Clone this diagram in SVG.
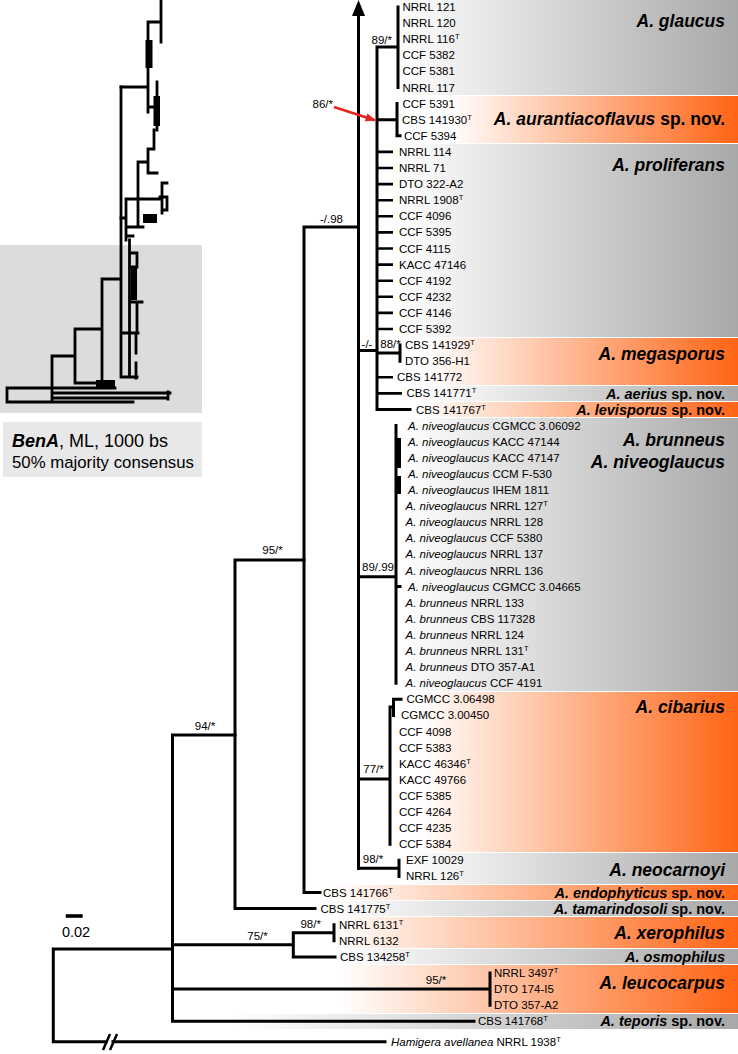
<svg xmlns="http://www.w3.org/2000/svg" width="738" height="1054" viewBox="0 0 738 1054">
<style>
.t{font-family:"Liberation Sans",Arial,sans-serif;font-size:11.5px;fill:#000}
.i{font-style:italic}
.s{font-size:7.5px}
.sp{font-family:"Liberation Sans",Arial,sans-serif;font-size:11.5px;fill:#000;text-anchor:middle}
.cl{font-family:"Liberation Sans",Arial,sans-serif;font-weight:bold;font-size:17.5px;text-anchor:end;fill:#000}
.cs{font-family:"Liberation Sans",Arial,sans-serif;font-weight:bold;font-size:14.5px;text-anchor:end;fill:#000}
.ln{fill:none;stroke:#000;stroke-width:3;stroke-linecap:square;stroke-linejoin:miter}
.st{fill:none;stroke:#000;stroke-width:2.6;stroke-linecap:butt}
.in{fill:none;stroke:#000;stroke-width:2.8;stroke-linecap:square;stroke-linejoin:miter}
.gb{fill:url(#gG)}
.ob{fill:url(#gO)}
</style>
<defs>
<linearGradient id="gG" x1="0" y1="0" x2="1" y2="0"><stop offset="0" stop-color="#ffffff"/><stop offset="1" stop-color="#a8a8a8"/></linearGradient>
<linearGradient id="gO" x1="0" y1="0" x2="1" y2="0"><stop offset="0" stop-color="#ffffff"/><stop offset="1" stop-color="#ff6414"/></linearGradient>
<marker id="ah" viewBox="0 0 10 8" refX="9" refY="4" markerWidth="4" markerHeight="3.2" orient="auto" markerUnits="strokeWidth"><path d="M0,0 L10,4 L0,8 z" fill="#e8231e"/></marker>
</defs>
<rect width="738" height="1054" fill="#fff"/>

<!-- clade bands -->
<g id="clade-glaucus"><rect class="gb" x="395" y="0" width="343" height="95"/><text class="cl" x="725" y="26.5"><tspan class="i">A. glaucus</tspan></text></g>
<g id="clade-aurantiacoflavus"><rect class="ob" x="450" y="96" width="288" height="47"/><text class="cl" x="725" y="125"><tspan class="i">A. aurantiacoflavus</tspan> sp. nov.</text></g>
<g id="clade-proliferans"><rect class="gb" x="395" y="144" width="343" height="193"/><text class="cl" x="725" y="170.5"><tspan class="i">A. proliferans</tspan></text></g>
<g id="clade-megasporus"><rect class="ob" x="430" y="338" width="308" height="47"/><text class="cl" x="725" y="360"><tspan class="i">A. megasporus</tspan></text></g>
<g id="clade-aerius"><rect class="gb" x="420" y="386" width="318" height="15"/><text class="cs" x="725" y="398.7"><tspan class="i">A. aerius</tspan> sp. nov.</text></g>
<g id="clade-levisporus"><rect class="ob" x="420" y="402" width="318" height="15"/><text class="cs" x="725" y="414.6"><tspan class="i">A. levisporus</tspan> sp. nov.</text></g>
<g id="clade-niveoglaucus"><rect class="gb" x="400" y="418" width="338" height="273"/><text class="cl" x="725" y="445.5"><tspan class="i">A. brunneus</tspan></text><text class="cl" x="725" y="467.5"><tspan class="i">A. niveoglaucus</tspan></text></g>
<g id="clade-cibarius"><rect class="ob" x="420" y="692" width="318" height="160"/><text class="cl" x="725" y="712.5"><tspan class="i">A. cibarius</tspan></text></g>
<g id="clade-neocarnoyi"><rect class="gb" x="400" y="853" width="338" height="31"/><text class="cl" x="725" y="876"><tspan class="i">A. neocarnoyi</tspan></text></g>
<g id="clade-endophyticus"><rect class="ob" x="330" y="885" width="408" height="15"/><text class="cs" x="725" y="897.5"><tspan class="i">A. endophyticus</tspan> sp. nov.</text></g>
<g id="clade-tamarindosoli"><rect class="gb" x="320" y="901" width="418" height="15"/><text class="cs" x="725" y="913.5"><tspan class="i">A. tamarindosoli</tspan> sp. nov.</text></g>
<g id="clade-xerophilus"><rect class="ob" x="335" y="917" width="403" height="31"/><text class="cl" x="725" y="938.5"><tspan class="i">A. xerophilus</tspan></text></g>
<g id="clade-osmophilus"><rect class="gb" x="335" y="949" width="403" height="15"/><text class="cs" x="725" y="962"><tspan class="i">A. osmophilus</tspan></text></g>
<g id="clade-leucocarpus"><rect class="ob" x="340" y="965" width="398" height="48"/><text class="cl" x="725" y="989"><tspan class="i">A. leucocarpus</tspan></text></g>
<g id="clade-teporis"><rect class="gb" x="230" y="1014" width="508" height="15"/><text class="cs" x="725" y="1026"><tspan class="i">A. teporis</tspan> sp. nov.</text></g>

<!-- inset -->
<g id="inset">
<rect x="0" y="245" width="202" height="168" fill="#dcdcdc"/>
<path class="in" d="M161,0 V42 M148,22 H161 M148,22 V112 M121,87 H148 M148,107 H157 M157,82 V130 M154,130 V149 H148 V173 H157 M138,162 H148 M138,162 V227 M126,199 H160 M162,183 V213 M162,183 H167 M160,197 H167 V210 H162 M126,199 V240 M126,227 H143 M121,218 H126 M126,236 H133"/>
<rect x="145.5" y="40" width="7" height="28"/>
<rect x="153.5" y="96" width="6.5" height="30"/>
<rect x="143" y="214" width="14" height="9"/>
<path class="in" d="M121,87 V377 H137 M129.5,240 V375 M130,253 H137 V267 H130 M129.5,302 H142 M137,302 V333 M121,333 H138 M136,333 V353 M136,363 V378 M102,279 H121 M102,279 V383 M75,329 H102 M75,329 V383 H112 M52,356 H75 M52,356 V402 M52,388 H115 M52,393 H170 M52,398 H168 M168,392 V399 M7,402 H133 M7,388 V402 M7,388 H52"/>
<rect x="131" y="267" width="6" height="33"/>
<rect x="96" y="380" width="19" height="9"/>
<rect x="3" y="422" width="199" height="55" fill="#e8e8e8"/>
<text class="t" x="12" y="447" style="font-size:18px"><tspan font-weight="bold" font-style="italic">BenA</tspan>, ML, 1000 bs</text>
<text class="t" x="12" y="468" style="font-size:16.8px">50% majority consensus</text>
</g>

<!-- connectors -->
<g id="connectors">
<polygon points="358.5,0 352,16 365,16" fill="#000"/>
<path class="ln" d="M358.5,14 V868.3"/>
<path class="ln" d="M320,892.5 H304 V227 H358.5"/>
<path class="ln" d="M315,908.6 H235 V560 H304"/>
<path class="ln" d="M235,735 H172.5 V1021.3 H474"/>
<path class="ln" d="M172.5,949 H53.3 V1041.7 H106 M113,1041.7 H385"/>
<path class="ln" d="M172.5,944.8 H293.3 M335,956.9 H293.3 V932.7 H334 M334,924.7 V940.8"/>
<path class="ln" d="M172.5,989.1 H490 M490,973 V1005.2"/>
<path class="ln" d="M358.5,350.5 H377 M377,47 V409.5 H410 M377,47 H398 M398,7 V87.5 M377,119.7 H397 M397,103.6 V135.8 H400 M377,353 H400 M400,345.1 V361.2"/>
<path class="st" d="M377,151.9 H393 M377,168 H393 M377,184.1 H393 M377,200.2 H393 M377,216.3 H393 M377,232.4 H393 M377,248.5 H393 M377,264.6 H393 M377,280.7 H393 M377,296.8 H393 M377,312.9 H393 M377,329 H393 M377,377.3 H393 M377,393.4 H402"/>
<path class="ln" d="M358.5,576.7 H396 M396,425.6 V683.2 M396,586.6 H400"/>
<rect x="396" y="438" width="5" height="30"/>
<rect x="396" y="476" width="5" height="18"/>
<path class="ln" d="M358.5,779 H390 M390,707 V844.2 M390,707 H393.5 M401,699.3 H393.5 V715.4"/>
<path class="ln" d="M358.5,868.3 H399 M399,860.3 V876.4"/>
<path d="M334,107 L375,120.3" stroke="#e8231e" stroke-width="2.6" fill="none" marker-end="url(#ah)"/>
<path d="M103,1050 L110,1034 M110,1050 L117,1034" stroke="#000" stroke-width="2.5" fill="none"/>
<path d="M65.7,916 H82.7" stroke="#000" stroke-width="3.6"/>
<text class="t" x="76" y="937" text-anchor="middle" style="font-size:14.5px">0.02</text>
</g>

<!-- support values -->
<g id="supports">
<text class="t" x="392" y="43.5" text-anchor="end">89/*</text>
<text class="t" x="333" y="108" text-anchor="end">86/*</text>
<text class="sp" x="331.5" y="222.5">-/.98</text>
<text class="sp" x="367" y="347.5">-/-</text>
<text class="sp" x="390.5" y="347.5">88/*</text>
<text class="t" x="394" y="571" text-anchor="end">89/.99</text>
<text class="sp" x="272.5" y="554">95/*</text>
<text class="sp" x="205" y="730">94/*</text>
<text class="sp" x="373.5" y="773">77/*</text>
<text class="sp" x="373" y="863">98/*</text>
<text class="sp" x="310.7" y="928">98/*</text>
<text class="sp" x="257.5" y="940">75/*</text>
<text class="sp" x="436" y="984">95/*</text>
</g>

<!-- tips -->
<g id="tip-NRRL121"><text class="t" x="402.5" y="11">NRRL 121</text></g>
<g id="tip-NRRL120"><text class="t" x="402.5" y="27.1">NRRL 120</text></g>
<g id="tip-NRRL116"><text class="t" x="402.5" y="43.2">NRRL 116<tspan class="s" dy="-4">T</tspan></text></g>
<g id="tip-CCF5382"><text class="t" x="402.5" y="59.3">CCF 5382</text></g>
<g id="tip-CCF5381"><text class="t" x="402.5" y="75.4">CCF 5381</text></g>
<g id="tip-NRRL117"><text class="t" x="402.5" y="91.5">NRRL 117</text></g>
<g id="tip-CCF5391"><text class="t" x="402.5" y="107.6">CCF 5391</text></g>
<g id="tip-CBS141930"><text class="t" x="402" y="123.7">CBS 141930<tspan class="s" dy="-4">T</tspan></text></g>
<g id="tip-CCF5394"><text class="t" x="404" y="139.8">CCF 5394</text></g>
<g id="tip-NRRL114"><text class="t" x="399" y="155.9">NRRL 114</text></g>
<g id="tip-NRRL71"><text class="t" x="399" y="172">NRRL 71</text></g>
<g id="tip-DTO322A2"><text class="t" x="399" y="188.1">DTO 322-A2</text></g>
<g id="tip-NRRL1908"><text class="t" x="399" y="204.2">NRRL 1908<tspan class="s" dy="-4">T</tspan></text></g>
<g id="tip-CCF4096"><text class="t" x="399" y="220.3">CCF 4096</text></g>
<g id="tip-CCF5395"><text class="t" x="399" y="236.4">CCF 5395</text></g>
<g id="tip-CCF4115"><text class="t" x="399" y="252.5">CCF 4115</text></g>
<g id="tip-KACC47146"><text class="t" x="399" y="268.6">KACC 47146</text></g>
<g id="tip-CCF4192"><text class="t" x="399" y="284.7">CCF 4192</text></g>
<g id="tip-CCF4232"><text class="t" x="399" y="300.8">CCF 4232</text></g>
<g id="tip-CCF4146"><text class="t" x="399" y="316.9">CCF 4146</text></g>
<g id="tip-CCF5392"><text class="t" x="399" y="333">CCF 5392</text></g>
<g id="tip-CBS141929"><text class="t" x="405" y="349.1">CBS 141929<tspan class="s" dy="-4">T</tspan></text></g>
<g id="tip-DTO356H1"><text class="t" x="405" y="365.2">DTO 356-H1</text></g>
<g id="tip-CBS141772"><text class="t" x="397" y="381.3">CBS 141772</text></g>
<g id="tip-CBS141771"><text class="t" x="406.5" y="397.4">CBS 141771<tspan class="s" dy="-4">T</tspan></text></g>
<g id="tip-CBS141767"><text class="t" x="416" y="413.5">CBS 141767<tspan class="s" dy="-4">T</tspan></text></g>
<g id="tip-CGMCC306092"><text class="t" x="408" y="429.6"><tspan class="i">A. niveoglaucus</tspan> CGMCC 3.06092</text></g>
<g id="tip-KACC47144"><text class="t" x="408" y="445.7"><tspan class="i">A. niveoglaucus</tspan> KACC 47144</text></g>
<g id="tip-KACC47147"><text class="t" x="408" y="461.8"><tspan class="i">A. niveoglaucus</tspan> KACC 47147</text></g>
<g id="tip-CCMF530"><text class="t" x="408" y="477.9"><tspan class="i">A. niveoglaucus</tspan> CCM F-530</text></g>
<g id="tip-IHEM1811"><text class="t" x="408" y="494"><tspan class="i">A. niveoglaucus</tspan> IHEM 1811</text></g>
<g id="tip-NRRL127"><text class="t" x="405.5" y="510.1"><tspan class="i">A. niveoglaucus</tspan> NRRL 127<tspan class="s" dy="-4">T</tspan></text></g>
<g id="tip-NRRL128"><text class="t" x="405.5" y="526.2"><tspan class="i">A. niveoglaucus</tspan> NRRL 128</text></g>
<g id="tip-CCF5380"><text class="t" x="405.5" y="542.3"><tspan class="i">A. niveoglaucus</tspan> CCF 5380</text></g>
<g id="tip-NRRL137"><text class="t" x="405.5" y="558.4"><tspan class="i">A. niveoglaucus</tspan> NRRL 137</text></g>
<g id="tip-NRRL136"><text class="t" x="405.5" y="574.5"><tspan class="i">A. niveoglaucus</tspan> NRRL 136</text></g>
<g id="tip-CGMCC304665"><text class="t" x="408" y="590.6"><tspan class="i">A. niveoglaucus</tspan> CGMCC 3.04665</text></g>
<g id="tip-NRRL133"><text class="t" x="405.5" y="606.7"><tspan class="i">A. brunneus</tspan> NRRL 133</text></g>
<g id="tip-CBS117328"><text class="t" x="405.5" y="622.8"><tspan class="i">A. brunneus</tspan> CBS 117328</text></g>
<g id="tip-NRRL124"><text class="t" x="405.5" y="638.9"><tspan class="i">A. brunneus</tspan> NRRL 124</text></g>
<g id="tip-NRRL131"><text class="t" x="405.5" y="655"><tspan class="i">A. brunneus</tspan> NRRL 131<tspan class="s" dy="-4">T</tspan></text></g>
<g id="tip-DTO357A1"><text class="t" x="405.5" y="671.1"><tspan class="i">A. brunneus</tspan> DTO 357-A1</text></g>
<g id="tip-CCF4191"><text class="t" x="405.5" y="687.2"><tspan class="i">A. niveoglaucus</tspan> CCF 4191</text></g>
<g id="tip-CGMCC306498"><text class="t" x="406.5" y="703.3">CGMCC 3.06498</text></g>
<g id="tip-CGMCC300450"><text class="t" x="401" y="719.4">CGMCC 3.00450</text></g>
<g id="tip-CCF4098"><text class="t" x="399" y="735.5">CCF 4098</text></g>
<g id="tip-CCF5383"><text class="t" x="399" y="751.6">CCF 5383</text></g>
<g id="tip-KACC46346"><text class="t" x="399" y="767.7">KACC 46346<tspan class="s" dy="-4">T</tspan></text></g>
<g id="tip-KACC49766"><text class="t" x="399" y="783.8">KACC 49766</text></g>
<g id="tip-CCF5385"><text class="t" x="399" y="799.9">CCF 5385</text></g>
<g id="tip-CCF4264"><text class="t" x="399" y="816">CCF 4264</text></g>
<g id="tip-CCF4235"><text class="t" x="399" y="832.1">CCF 4235</text></g>
<g id="tip-CCF5384"><text class="t" x="399" y="848.2">CCF 5384</text></g>
<g id="tip-EXF10029"><text class="t" x="406" y="864.3">EXF 10029</text></g>
<g id="tip-NRRL126"><text class="t" x="406" y="880.4">NRRL 126<tspan class="s" dy="-4">T</tspan></text></g>
<g id="tip-CBS141766"><text class="t" x="323" y="896.5">CBS 141766<tspan class="s" dy="-4">T</tspan></text></g>
<g id="tip-CBS141775"><text class="t" x="320.5" y="912.6">CBS 141775<tspan class="s" dy="-4">T</tspan></text></g>
<g id="tip-NRRL6131"><text class="t" x="339" y="928.7">NRRL 6131<tspan class="s" dy="-4">T</tspan></text></g>
<g id="tip-NRRL6132"><text class="t" x="339" y="944.8">NRRL 6132</text></g>
<g id="tip-CBS134258"><text class="t" x="340" y="960.9">CBS 134258<tspan class="s" dy="-4">T</tspan></text></g>
<g id="tip-NRRL3497"><text class="t" x="494" y="977">NRRL 3497<tspan class="s" dy="-4">T</tspan></text></g>
<g id="tip-DTO174I5"><text class="t" x="494" y="993.1">DTO 174-I5</text></g>
<g id="tip-DTO357A2"><text class="t" x="494" y="1009.2">DTO 357-A2</text></g>
<g id="tip-CBS141768"><text class="t" x="478" y="1025.3">CBS 141768<tspan class="s" dy="-4">T</tspan></text></g>
<g id="tip-Hamigera"><text class="t" x="391" y="1045.7"><tspan class="i">Hamigera avellanea</tspan> NRRL 1938<tspan class="s" dy="-4">T</tspan></text></g>
</svg>
